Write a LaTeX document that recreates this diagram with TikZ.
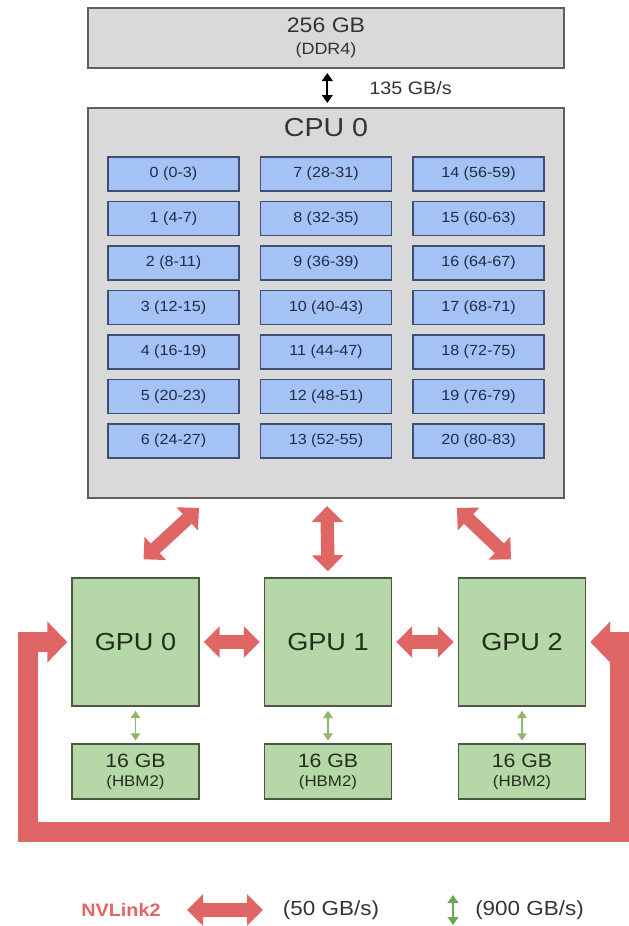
\documentclass[tikz,border=0pt]{standalone}
\usepackage{fontspec}
\setmainfont[FakeStretch=1.1]{Liberation Sans}
\usetikzlibrary{arrows.meta}
\definecolor{boxgray}{HTML}{D9D9D9}
\definecolor{bordergray}{HTML}{5F5F5F}
\definecolor{coreblue}{HTML}{A4C2F4}
\definecolor{coreborder}{HTML}{3F4E72}
\definecolor{coretext}{HTML}{1F2B4A}
\definecolor{gpugreen}{HTML}{B6D7A8}
\definecolor{gpuborder}{HTML}{4B5A40}
\definecolor{gputext}{HTML}{22301A}
\definecolor{nvred}{HTML}{E06666}
\definecolor{hbmarrow}{HTML}{8DB86B}
\definecolor{legendgreen}{HTML}{6AA84F}
\definecolor{txtgray}{HTML}{333333}
\tikzset{
  graybox/.style={draw=bordergray, line width=1.5pt, fill=boxgray, minimum width=357pt, inner sep=0pt},
  corebox/.style={draw=coreborder, line width=1.1pt, fill=coreblue, minimum width=98.25pt, minimum height=25.5pt, inner sep=0pt, text=coretext, font={\fontsize{11}{13}\selectfont}},
  gpubox/.style={draw=gpuborder, line width=1.1pt, fill=gpugreen, minimum width=95.25pt, minimum height=96pt, inner sep=0pt, text=gputext, font={\fontsize{18.5}{22}\selectfont}},
  hbmbox/.style={draw=gpuborder, line width=1.1pt, fill=gpugreen, minimum width=95.25pt, minimum height=41.25pt, inner sep=0pt, text=gputext, align=center},
  nvlink/.style={draw=nvred, line width=10pt, {Triangle[length=12pt,width=23pt]}-{Triangle[length=12pt,width=23pt]}},
  nvloop/.style={draw=nvred, line width=15pt, line join=miter, {Triangle[length=15pt,width=30pt]}-{Triangle[length=15pt,width=30pt]}},
  memarrow/.style={draw=black, line width=1.3pt, {Triangle[length=6pt,width=8pt]}-{Triangle[length=6pt,width=8pt]}},
  hbmlink/.style={draw=hbmarrow, line width=1.3pt, {Triangle[length=5.5pt,width=7pt]}-{Triangle[length=5.5pt,width=7pt]}},
  leglink/.style={draw=legendgreen, line width=1.5pt, {Triangle[length=6pt,width=8pt]}-{Triangle[length=6pt,width=8pt]}},
  legtext/.style={inner sep=0pt, font={\fontsize{15.3}{18}\selectfont}, text=txtgray}
}
\begin{document}
\begin{tikzpicture}[x=0.75pt, y=-0.75pt]
\useasboundingbox (0,0) rectangle (629,926);
% memory
\node[graybox, minimum height=45pt, align=center, text=txtgray] (ddr) at (326,38)
  {{\fontsize{15.75}{16}\selectfont 256 GB}\\[5pt]{\fontsize{12.25}{14}\selectfont (DDR4)}};
\node[graybox, minimum height=292.5pt] (cpu) at (326,303) {};
\node[inner sep=0pt, font={\fontsize{19.5}{23}\selectfont}, text=txtgray] (cputitle) at (326,128) {CPU 0};
\draw[memarrow, shorten <=3pt, shorten >=3pt] ([xshift=1]ddr.south) -- ([xshift=1]cpu.north);
\node[anchor=west, inner sep=0pt, font={\fontsize{13.5}{16}\selectfont}, text=txtgray] (bw) at (369,88) {135 GB/s};
% cores
\foreach \c/\x in {0/173.5, 1/326, 2/478.5} {
  \foreach \r in {0,...,6} {
    \pgfmathtruncatemacro{\k}{\c*7+\r}
    \pgfmathtruncatemacro{\a}{4*\k}
    \pgfmathtruncatemacro{\b}{4*\k+3}
    \node[corebox] (core\k) at (\x,174+44.5*\r) {\k\ (\a-\b)};
  }
}
% GPUs
\node[gpubox] (gpu0) at (135.5,642) {GPU 0};
\node[gpubox] (gpu1) at (328,642) {GPU 1};
\node[gpubox] (gpu2) at (522,642) {GPU 2};
\foreach \i/\x in {0/135.5, 1/328, 2/522} {
  \node[hbmbox] (hbm\i) at (\x,771.5)
    {{\fontsize{14.5}{15}\selectfont 16 GB}\\[2pt]{\fontsize{11.5}{13}\selectfont (HBM2)}};
  \draw[hbmlink, shorten <=3pt, shorten >=2pt] (gpu\i.south) -- (hbm\i.north);
}
% NVLink connections
\draw[nvlink] ([shift={(-127,9)}]cpu.south) -- ([shift={(8,-18)}]gpu0.north);
\draw[nvlink] ([shift={(1,7)}]cpu.south) -- ([shift={(0,-6)}]gpu1.north);
\draw[nvlink] ([shift={(131,9)}]cpu.south) -- ([shift={(-11,-18)}]gpu2.north);
\draw[nvlink, shorten <=3pt, shorten >=3pt] (gpu0.east) -- (gpu1.west);
\draw[nvlink, shorten <=3pt, shorten >=3pt] (gpu1.east) -- (gpu2.west);
\coordinate (lc1) at (28,832);
\coordinate (lc2) at (620,832);
\draw[nvloop, shorten <=3pt, shorten >=3pt] (gpu0.west) -| (lc1) -- (lc2) |- (gpu2.east);
% legend
\node[legtext, text=nvred, font={\fontsize{13.5}{17}\bfseries\selectfont}] (nvname) at (121,910) {NVLink2};
\coordinate (la1) at (187,910);
\coordinate (la2) at (263,910);
\draw[nvlink] (la1) -- (la2);
\node[legtext] (nvbw) at (331,910) {(50 GB/s)};
\coordinate (lg1) at (453,895);
\coordinate (lg2) at (453,925);
\draw[leglink] (lg1) -- (lg2);
\node[legtext, anchor=west] (hbmbw) at (475,910) {(900 GB/s)};
\end{tikzpicture}
\end{document}
